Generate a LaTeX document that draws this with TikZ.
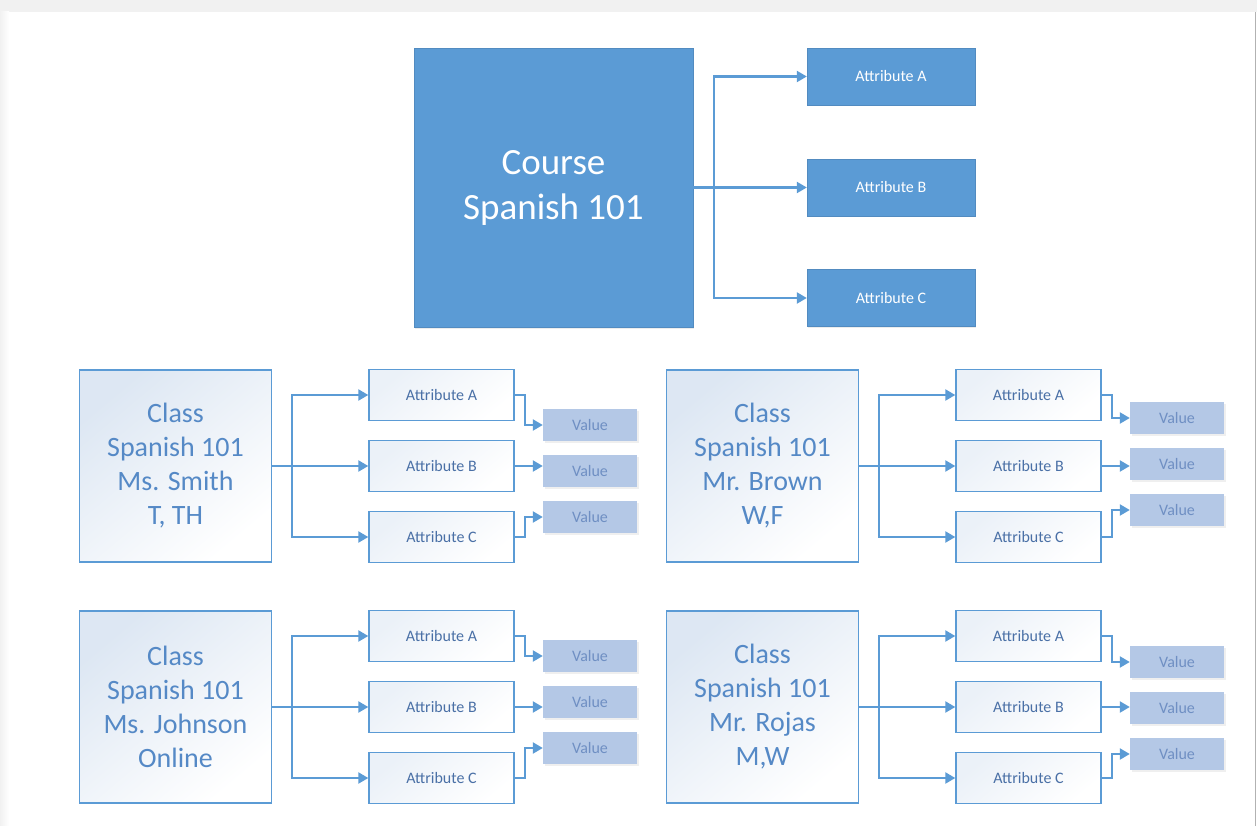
\documentclass[tikz,border=0pt]{standalone}
\usepackage{fontspec}
\setmainfont{Carlito}
\usetikzlibrary{arrows.meta,shadows}
\definecolor{cblue}{HTML}{5B9BD5}
\definecolor{clstext}{HTML}{5589C6}
\definecolor{atttext}{HTML}{4A70A6}
\definecolor{valfill}{HTML}{B4C8E6}
\definecolor{valtext}{HTML}{6F8FC3}
\definecolor{clsshade}{HTML}{DDE7F3}
\definecolor{bggray}{HTML}{F1F1F1}
\tikzset{
  arr/.style={draw=cblue, line width=2.2pt, -{Triangle[length=10pt,width=11pt]}},
  coursebox/.style={fill=cblue, draw=cblue!90!black, line width=0.4pt, minimum width=279pt, minimum height=279pt, inner sep=0pt, text=white, align=center, font=\fontsize{37}{45}\selectfont, drop shadow={shadow xshift=1pt, shadow yshift=-1.5pt, opacity=0.15}},
  topatt/.style={fill=cblue, draw=cblue!90!black, line width=0.4pt, minimum width=168pt, minimum height=57pt, inner sep=0pt, text=white, font=\fontsize{16}{19}\selectfont, drop shadow={shadow xshift=1pt, shadow yshift=-1.5pt, opacity=0.15}},
  clsbox/.style={draw=cblue, line width=1.4pt, top color=clsshade, bottom color=white, shading angle=40, minimum width=192pt, minimum height=192pt, inner sep=0pt, text=clstext, align=center, font=\fontsize{28}{34}\selectfont},
  attbox/.style={draw=cblue, line width=1.4pt, top color=clsshade!60, bottom color=white, shading angle=40, minimum width=145pt, minimum height=51pt, inner sep=0pt, text=atttext, font=\fontsize{16}{19}\selectfont},
  valbox/.style={fill=valfill, minimum width=94pt, minimum height=32pt, inner sep=0pt, text=valtext, font=\fontsize{16}{19}\selectfont, drop shadow={shadow xshift=1.5pt, shadow yshift=-1.5pt, opacity=0.12}},
}
\newcommand\clsgroup[4]{%
\begin{scope}[shift={#2}, name prefix=#1-]
  \node[clsbox] (cls) at (96.5,96) {#3};
  \node[attbox] (aA) at (362.5,25) {Attribute A};
  \node[attbox] (aB) at (362.5,96) {Attribute B};
  \node[attbox] (aC) at (362.5,167) {Attribute C};
  \node[valbox] (vA) at (511,#4) {Value};
  \node[valbox] (vB) at (511,#4+46) {Value};
  \node[valbox] (vC) at (511,#4+92) {Value};
  \coordinate (t) at (213,96);
  \draw[arr] (cls.east) -- (aB.west);
  \draw[arr] (t) |- (aA.west);
  \draw[arr] (t) |- (aC.west);
  \draw[arr] (aA.east) -- ++(10,0) |- (vA.west);
  \draw[arr] (aB.east) -- (aB.east -| vB.west);
  \draw[arr] (aC.east) -- ++(10,0) |- (vC.west);
\end{scope}}
\begin{document}
\begin{tikzpicture}[x=1pt,y=-1pt]
\useasboundingbox (0,0) rectangle (1257,826);
\fill[white] (0,0) rectangle (1257,826);
\fill[bggray] (0,0) rectangle (1257,12);
\shade[left color=bggray, right color=white] (0,12) rectangle (9,826);
\draw[gray!60, line width=1pt] (1255,12) -- (1255,826);

% course
\node[coursebox] (course) at (553.5,187.5) {Course\\Spanish 101};
\node[topatt] (tA) at (891,76.5) {Attribute A};
\node[topatt] (tB) at (891,187.5) {Attribute B};
\node[topatt] (tC) at (891,298) {Attribute C};
\coordinate (ct) at (714,187.5);
\draw[arr] (course.east) -- (tB.west);
\draw[arr] (ct) |- (tA.west);
\draw[arr] (ct) |- (tC.west);

% classes
\clsgroup{g1}{(79,370)}{Class\\Spanish 101\\Ms. Smith\\T, TH}{55}
\clsgroup{g2}{(666,370)}{Class\\Spanish 101\\Mr. Brown\\W,F}{48}
\clsgroup{g3}{(79,611)}{Class\\Spanish 101\\Ms. Johnson\\Online}{45}
\clsgroup{g4}{(666,611)}{Class\\Spanish 101\\Mr. Rojas\\M,W}{51}
\end{tikzpicture}
\end{document}
